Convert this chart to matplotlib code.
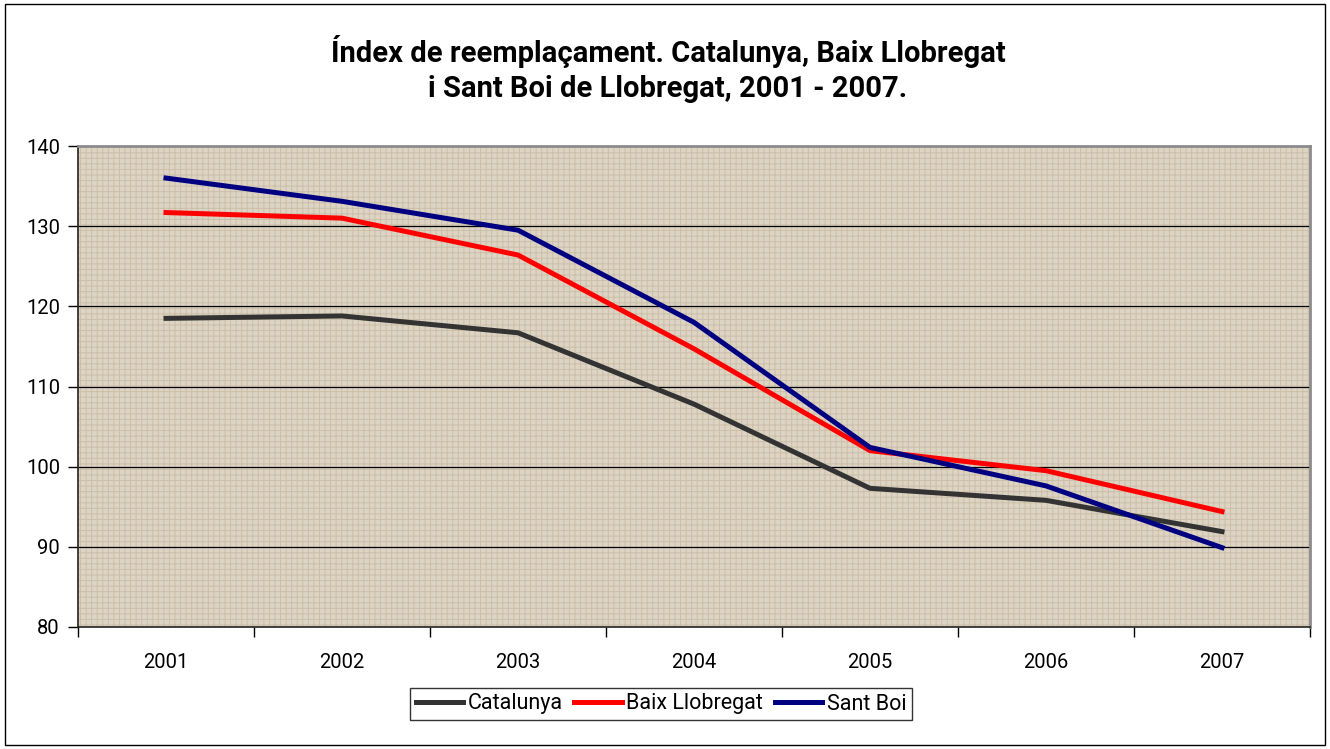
import matplotlib
matplotlib.use("Agg")
import matplotlib.pyplot as plt
from matplotlib.patches import Rectangle

years = ["2001", "2002", "2003", "2004", "2005", "2006", "2007"]
catalunya = [118.5, 118.8, 116.7, 107.8, 97.3, 95.8, 91.9]
baix_llobregat = [131.7, 131.0, 126.4, 114.7, 102.0, 99.5, 94.4]
sant_boi = [136.0, 133.1, 129.5, 118.0, 102.4, 97.6, 89.9]
y_ticks = [80, 90, 100, 110, 120, 130, 140]
series_names = ["Catalunya", "Baix Llobregat", "Sant Boi"]
title = "Índex de reemplaçament. Catalunya, Baix Llobregat\ni Sant Boi de Llobregat, 2001 - 2007."

plt.rcParams['font.family'] = ['Roboto', 'DejaVu Sans']
plt.rcParams['hatch.linewidth'] = 0.7

W, H = 1330, 749
fig = plt.figure(figsize=(W / 100, H / 100), dpi=100)
fig.patch.set_facecolor("white")
fig.patches.append(Rectangle((5 / W, 4 / H), 1320 / W, 741 / H, transform=fig.transFigure,
                             fill=False, edgecolor="black", linewidth=1.0))

ax = fig.add_axes([78 / W, 1 - 627 / H, (1310 - 78) / W, (627 - 146) / H])
ax.set_facecolor("#ddd4c3")
ax.add_patch(Rectangle((0, 0), 1, 1, transform=ax.transAxes, facecolor="none",
                       edgecolor="#cbbfaa", hatch="+++", linewidth=0, zorder=0.5))

x = [i + 0.5 for i in range(len(years))]
ax.plot(x, catalunya, color="#333333", linewidth=3.6, label=series_names[0], zorder=3)
ax.plot(x, baix_llobregat, color="#ff0000", linewidth=3.6, label=series_names[1], zorder=3)
ax.plot(x, sant_boi, color="#000080", linewidth=3.6, label=series_names[2], zorder=3)

ax.set_xlim(0, len(years))
ax.set_ylim(80, 140)
ax.set_yticks(y_ticks)
ax.set_yticklabels([str(v) for v in y_ticks], fontsize=14.5)
ax.set_xticks(range(len(years) + 1))
ax.set_xticklabels([])
ax.set_xticks(x, minor=True)
ax.set_xticklabels(years, minor=True, fontsize=14.5)
ax.tick_params(axis="x", which="minor", length=0, pad=19)
ax.tick_params(axis="x", which="major", length=7, width=1, direction="out")
ax.tick_params(axis="y", length=7, width=1, direction="out", pad=6)

for v in y_ticks[1:-1]:
    ax.axhline(v, color="black", linewidth=0.9, zorder=2)

ax.spines["left"].set_color("#222222")
ax.spines["left"].set_linewidth(1.2)
ax.spines["bottom"].set_color("#222222")
ax.spines["bottom"].set_linewidth(1.2)
ax.spines["top"].set_color("#8c8c8c")
ax.spines["top"].set_linewidth(2)
ax.spines["right"].set_color("#8c8c8c")
ax.spines["right"].set_linewidth(2)

fig.text(668 / W, 1 - 69 / H, title, ha="center", va="center", fontsize=21,
         fontweight="bold", linespacing=1.3)

leg = fig.legend(loc="center", bbox_to_anchor=(661 / W, 1 - 704 / H), ncol=3,
                 fontsize=15.5, frameon=True, fancybox=False, handlelength=2.2,
                 handletextpad=0.2, columnspacing=0.55, borderpad=0.25,
                 borderaxespad=0)
leg.get_frame().set_edgecolor("black")
leg.get_frame().set_linewidth(1.0)

fig.savefig("out.png", dpi=100)
